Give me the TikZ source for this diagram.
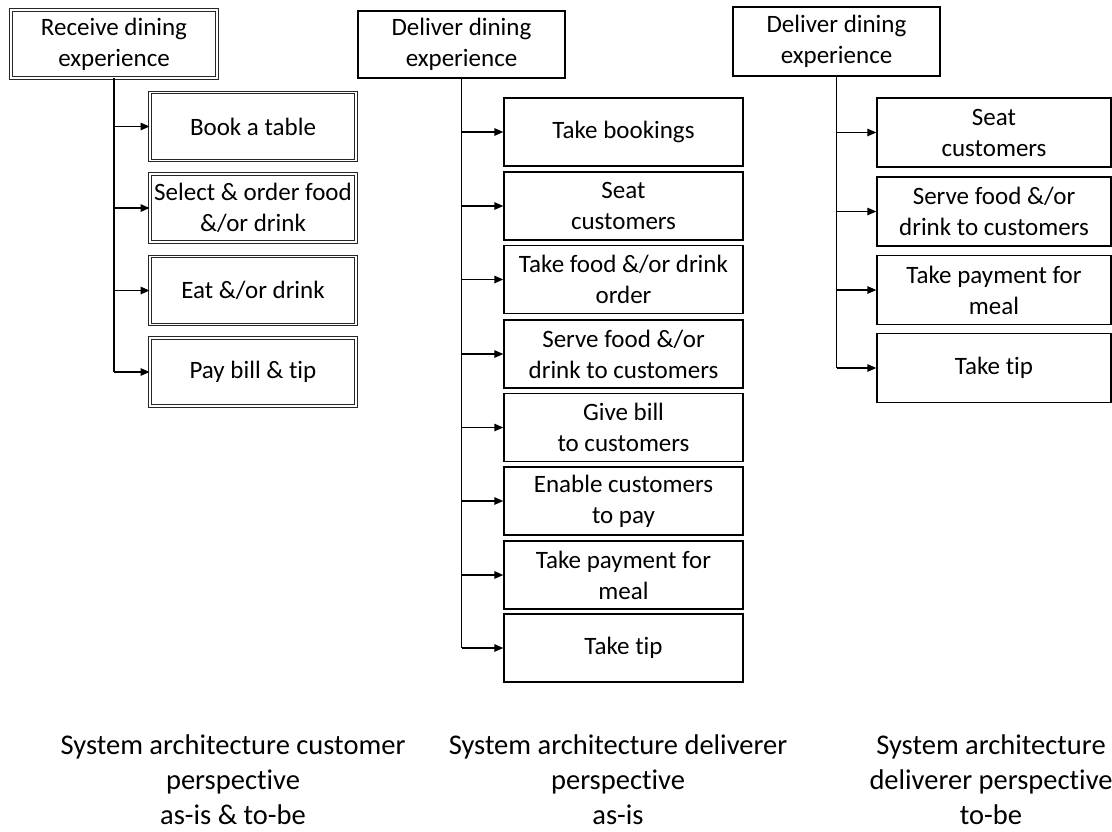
\documentclass[tikz,border=0pt]{standalone}
\usepackage{fontspec}
\setmainfont{Carlito}[Ligatures=NoCommon]
\usetikzlibrary{arrows.meta}
\tikzset{
  boxtext/.style={font=\fontsize{25}{31}\selectfont, align=center, inner sep=0pt},
  dblbox/.style={boxtext, draw=black!85, line width=0.9pt, double=white, double distance=1.6pt, minimum width=206pt, minimum height=68pt},
  sglbox/.style={boxtext, draw=black, line width=1.4pt},
  conn/.style={draw=black, line width=1.8pt},
  arr/.style={draw=black, line width=1.4pt, -{Triangle[length=9pt,width=7.5pt]}},
  caption/.style={font=\fontsize{28.5}{35}\selectfont, align=center, inner sep=0pt}
}
\begin{document}
\begin{tikzpicture}[x=1pt,y=-1pt]
\useasboundingbox (0,0) rectangle (1112,831);

% Left column
\node[dblbox] (h1) at (114,44) {Receive dining\\experience};
\node[dblbox] (l1) at (253,126.5) {Book a table};
\node[dblbox] (l2) at (253,208) {Select \& order food\\\&/or drink};
\node[dblbox] (l3) at (253,290.5) {Eat \&/or drink};
\node[dblbox] (l4) at (253,372) {Pay bill \& tip};

% Middle column
\node[sglbox, minimum width=207pt, minimum height=67pt] (h2) at (461.5,44.5) {Deliver dining\\experience};
\tikzset{midbox/.style={sglbox, minimum width=239pt, minimum height=68pt}}
\node[midbox] (m1) at (623.5,132) {Take bookings};
\node[midbox] (m2) at (623.5,206) {Seat\\customers};
\node[midbox] (m3) at (623.5,279.5) {Take food \&/or drink\\order};
\node[midbox] (m4) at (623.5,354) {Serve food \&/or\\drink to customers};
\node[midbox] (m5) at (623.5,427.5) {Give bill\\to customers};
\node[midbox] (m6) at (623.5,501) {Enable customers\\to pay};
\node[midbox] (m7) at (623.5,575) {Take payment for\\meal};
\node[midbox] (m8) at (623.5,648) {Take tip};

% Right column
\node[sglbox, minimum width=207pt, minimum height=69pt] (h3) at (836.5,41.5) {Deliver dining\\experience};
\tikzset{rbox/.style={sglbox, minimum width=234pt, minimum height=69pt}}
\node[rbox] (r1) at (994,132.5) {Seat\\customers};
\node[rbox] (r2) at (994,211.5) {Serve food \&/or\\drink to customers};
\node[rbox] (r3) at (994,290) {Take payment for\\meal};
\node[rbox] (r4) at (994,368) {Take tip};

% Connectors left
\draw[conn] (h1.south) -- (h1.south |- l4.west);
\foreach \b in {l1,l2,l3,l4}{\draw[arr] (h1.south |- \b.west) -- (\b.west);}
% Connectors middle
\draw[conn] (h2.south) -- (h2.south |- m8.west);
\foreach \b in {m1,m2,m3,m4,m5,m6,m7,m8}{\draw[arr] (h2.south |- \b.west) -- (\b.west);}
% Connectors right
\draw[conn] (h3.south) -- (h3.south |- r4.west);
\foreach \b in {r1,r2,r3,r4}{\draw[arr] (h3.south |- \b.west) -- (\b.west);}

% Captions
\node[caption] (c1) at (233,780) {System architecture customer\\perspective\\as-is \& to-be};
\node[caption] (c2) at (618,780) {System architecture deliverer\\perspective\\as-is};
\node[caption] (c3) at (991,780) {System architecture\\deliverer perspective\\to-be};
\end{tikzpicture}
\end{document}
